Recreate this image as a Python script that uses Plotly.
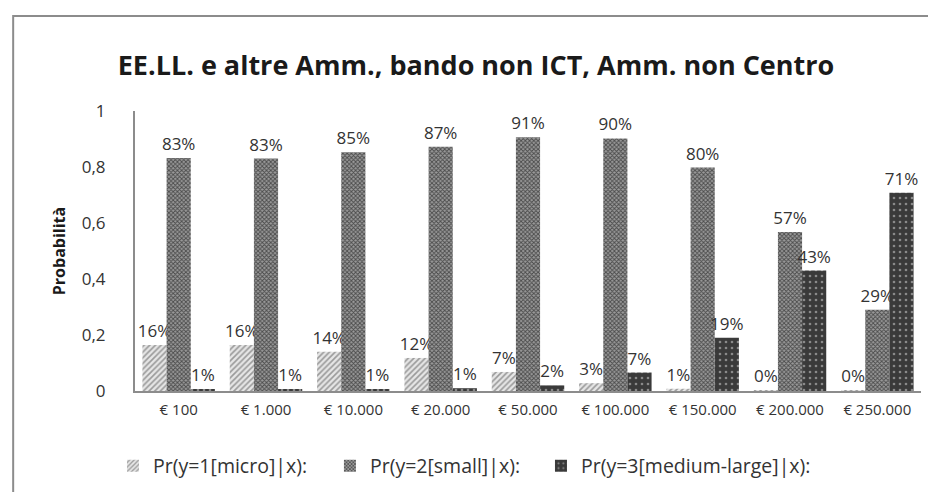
import plotly.graph_objects as go

categories = ["€ 100", "€ 1.000", "€ 10.000", "€ 20.000", "€ 50.000",
              "€ 100.000", "€ 150.000", "€ 200.000", "€ 250.000"]
micro = [0.164, 0.164, 0.140, 0.118, 0.068, 0.028, 0.008, 0.003, 0.002]
small = [0.832, 0.830, 0.853, 0.872, 0.906, 0.902, 0.798, 0.568, 0.290]
large = [0.006, 0.006, 0.007, 0.010, 0.020, 0.066, 0.190, 0.430, 0.708]
series_names = ["Pr(y=1[micro]|x):", "Pr(y=2[small]|x):", "Pr(y=3[medium-large]|x):"]
y_tickvals = [0, 0.2, 0.4, 0.6, 0.8, 1]
y_ticktext = ["0", "0,2", "0,4", "0,6", "0,8", "1"]

FONT = "Open Sans, sans-serif"
TXT = "#333333"

def pct(vals):
    return [f"{round(v * 100)}%" for v in vals]

fig = go.Figure()
fig.add_trace(go.Bar(
    x=categories, y=micro, name=series_names[0], text=pct(micro), legend="legend",
    marker=dict(color="#bdbdbd", line=dict(width=0),
                pattern=dict(shape="/", fgcolor="#9a9a9a", bgcolor="#e6e6e6",
                             size=4, solidity=0.4, fillmode="replace")),
))
fig.add_trace(go.Bar(
    x=categories, y=small, name=series_names[1], text=pct(small), legend="legend2",
    marker=dict(color="#6e6e6e", line=dict(width=0),
                pattern=dict(shape="x", fgcolor="#4a4a4a", bgcolor="#9a9a9a",
                             size=3, solidity=0.5, fillmode="replace")),
))
fig.add_trace(go.Bar(
    x=categories, y=large, name=series_names[2], text=pct(large), legend="legend3",
    marker=dict(color="#3c3c3c", line=dict(width=0),
                pattern=dict(shape=".", fgcolor="#8a8a8a", bgcolor="#3a3a3a",
                             size=6, solidity=0.15, fillmode="replace")),
))
fig.update_traces(textposition="outside", cliponaxis=False, constraintext="none",
                  showlegend=True,
                  textfont=dict(family=FONT, size=17, color=TXT))

legend_common = dict(orientation="h", xanchor="left", y=-0.268, yanchor="middle",
                     font=dict(family=FONT, size=19.5, color=TXT),
                     bgcolor="rgba(0,0,0,0)", visible=True)

fig.update_layout(
    width=936, height=492,
    margin=dict(l=127, r=23, t=103, b=109),
    paper_bgcolor="white", plot_bgcolor="white",
    showlegend=True,
    barmode="group", bargap=0.17, bargroupgap=0,
    title=dict(text="<b>EE.LL. e altre Amm., bando non ICT, Amm. non Centro</b>",
               x=0.5, xanchor="center", y=0.884, yanchor="middle",
               font=dict(family=FONT, size=27, color="#1a1a1a")),
    font=dict(family=FONT, color=TXT),
    legend=dict(x=-0.028, **legend_common),
    legend2=dict(x=0.248, **legend_common),
    legend3=dict(x=0.5165, **legend_common),
    xaxis=dict(showline=True, linecolor="#8c8c8c", linewidth=2, showgrid=False,
               ticks="", tickfont=dict(family=FONT, size=15, color=TXT),
               ticklabelstandoff=4),
    yaxis=dict(range=[0, 1], showline=True, linecolor="#8c8c8c", linewidth=2,
               showgrid=False, zeroline=False, ticks="",
               tickvals=y_tickvals, ticktext=y_ticktext,
               tickfont=dict(family=FONT, size=17, color=TXT),
               ticklabelstandoff=24,
               title=dict(text="<b>Probabilità</b>", standoff=12,
                          font=dict(family=FONT, size=16, color="#1a1a1a"))),
    shapes=[dict(type="rect", xref="paper", yref="paper",
                 x0=-0.155, x1=1.04, y0=-0.42, y1=1.339,
                 line=dict(color="#8c8c8c", width=2), fillcolor="rgba(0,0,0,0)",
                 layer="below")],
)

fig.write_html("out.html")
